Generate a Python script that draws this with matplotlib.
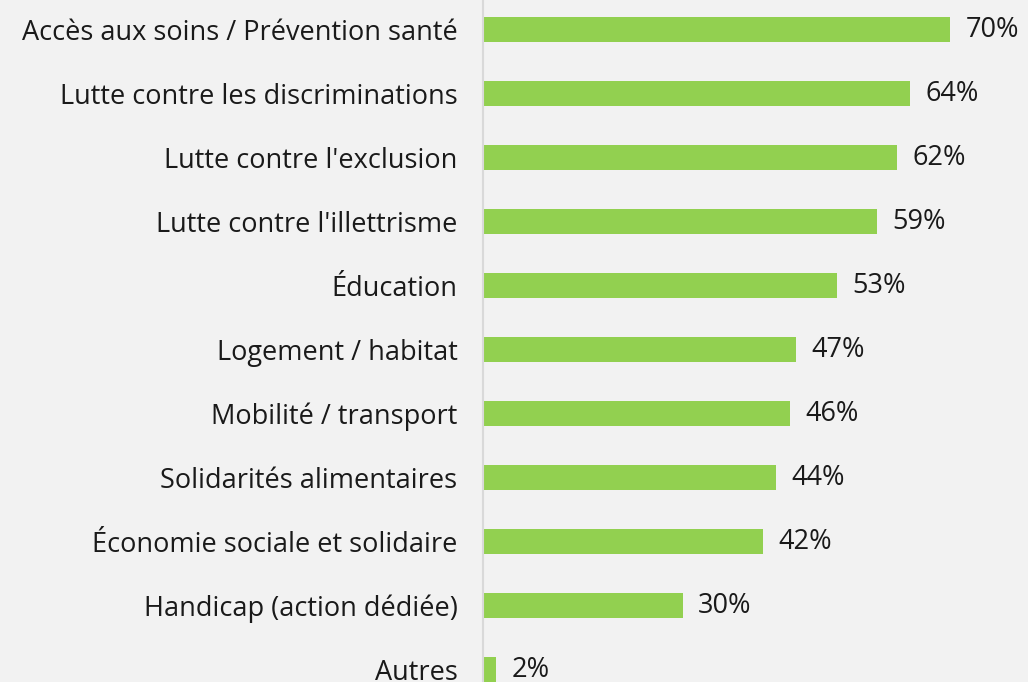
import matplotlib

matplotlib.use("Agg")
import matplotlib.pyplot as plt

categories = [
    "Accès aux soins / Prévention santé",
    "Lutte contre les discriminations",
    "Lutte contre l'exclusion",
    "Lutte contre l'illettrisme",
    "Éducation",
    "Logement / habitat",
    "Mobilité / transport",
    "Solidarités alimentaires",
    "Économie sociale et solidaire",
    "Handicap (action dédiée)",
    "Autres",
]
values = [70, 64, 62, 59, 53, 47, 46, 44, 42, 30, 2]

BG = "#f2f2f2"
BAR = "#92d050"
FS = 19.5

plt.rcParams["font.family"] = ["Open Sans", "DejaVu Sans"]

fig = plt.figure(figsize=(10.28, 6.82), dpi=100, facecolor=BG)
ax = fig.add_axes([482.5 / 1028, 0, 534.4 / 1028, 1], facecolor=BG)

pos = list(range(len(categories)))
ax.barh(pos, values, height=0.39, color=BAR, zorder=2)
for y, v in zip(pos, values):
    ax.text(v + 2.3, y, f"{v}%", va="center", ha="left", fontsize=FS, color="#1a1a1a")

ax.set_xlim(0, 80)
ax.set_ylim(10.195, -0.461)
ax.set_yticks(pos, categories, fontsize=FS, color="#1a1a1a")
ax.tick_params(axis="y", length=0, pad=18)
ax.set_xticks([])
for s in ["top", "right", "bottom"]:
    ax.spines[s].set_visible(False)
ax.spines["left"].set_color("#d9d9d9")
ax.spines["left"].set_linewidth(1.5)

fig.savefig("out.png", dpi=100, facecolor=BG)
